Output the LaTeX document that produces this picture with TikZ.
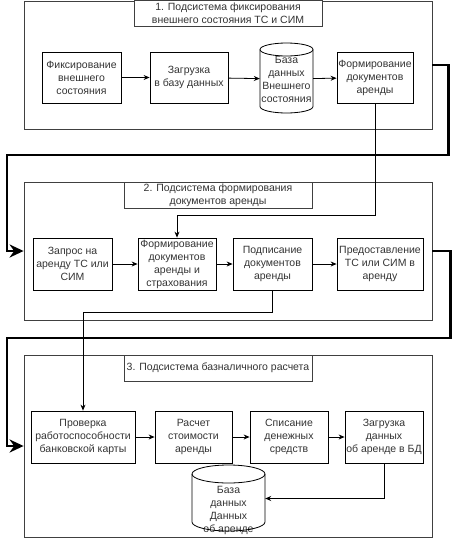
\documentclass[tikz,border=0pt]{standalone}
\usepackage{fontspec}
\setmainfont{Liberation Sans}
\usetikzlibrary{arrows.meta}
\tikzset{
  frame/.style={draw=black!75, line width=0.8pt, minimum width=408pt},
  title/.style={draw=black!75, fill=white, line width=0.8pt, minimum width=188pt,
    minimum height=26pt, inner sep=0pt, align=center},
  blk/.style={draw, line width=0.8pt, minimum height=51pt, inner sep=0pt, align=center},
  dbtext/.style={inner sep=0pt, align=center},
  link/.style={line width=2.6pt, -{Stealth[length=14pt,width=13pt]}},
}
\begin{document}
\begin{tikzpicture}[x=1pt, y=-1pt, >={Stealth[length=6pt,width=5pt]},
    font=\fontsize{10.5pt}{13pt}\selectfont, text=black!80]
  \useasboundingbox (0,0) rectangle (457,544);
  % subsystems
  \node[frame, minimum height=128pt] (frame1) at (228,65) {};
  \node[frame, minimum height=138pt] (frame2) at (228,251) {};
  \node[frame, minimum height=182pt] (frame3) at (228,446) {};
  \node[title] (title1) at (228,13.5) {1. Подсистема фиксирования\\внешнего состояния ТС и СИМ};
  \node[title] (title2) at (218,195) {2. Подсистема формирования\\документов аренды};
  \node[title] (title3) at (218,368) {3. Подсистема базналичного расчета};
  % first row
  \draw
    (81.5,77.5) node[blk, minimum width=79pt] (fix){Фиксирование\\внешнего\\состояния}
    (189,77.5) node[blk, minimum width=78pt] (load){Загрузка\\в базу данных}
    (286.5,79) node[dbtext, minimum width=53pt, minimum height=70pt] (db1){База\\данных\\Внешнего\\состояния}
    (375,77.5) node[blk, minimum width=76pt] (docs){Формирование\\документов\\аренды};
  \draw[line width=0.8pt] (260,49.5) -- (260,106.5)
    arc[start angle=180, end angle=0, x radius=26.5, y radius=6.5] -- (313,49.5);
  \draw[line width=0.8pt] (286.5,49.5) ellipse[x radius=26.5, y radius=6.5];
  % second row
  \draw
    (72.5,264) node[blk, minimum width=79pt, minimum height=52pt] (req){Запрос на\\аренду ТС или\\СИМ}
    (177,264) node[blk, minimum width=78pt, minimum height=52pt] (ins){Формирование\\документов\\аренды и\\страхования}
    (272.5,264) node[blk, minimum width=79pt, minimum height=52pt] (sign){Подписание\\документов\\аренды}
    (380,264) node[blk, minimum width=86pt, minimum height=52pt] (give){Предоставление\\ТС или СИМ в\\аренду};
  % third row
  \draw
    (83,437) node[blk, minimum width=104pt, minimum height=52pt] (card){Проверка\\работоспособности\\банковской карты}
    (193.5,437) node[blk, minimum width=77pt, minimum height=52pt] (cost){Расчет\\стоимости\\аренды}
    (289,437) node[blk, minimum width=78pt, minimum height=52pt] (pay){Списание\\денежных\\средств}
    (384,437) node[blk, minimum width=78pt, minimum height=52pt] (save){Загрузка\\данных\\об аренде в БД}
    (228.5,498.5) node[minimum width=73pt, minimum height=67pt] (db2){}
    (228.5,510) node[dbtext] (db2txt){База\\данных\\Данных\\об аренде};
  \draw[line width=0.8pt] (192,474) -- (192,522)
    arc[start angle=180, end angle=0, x radius=36.5, y radius=9] -- (265,474);
  \draw[line width=0.8pt] (228.5,474) ellipse[x radius=36.5, y radius=9];
  \begin{scope}[->, line width=0.8pt]
    \draw (fix) to (load);
    \draw (load) to (db1);
    \draw (db1) to (docs);
    \draw (req) to (ins);
    \draw (ins) to (sign);
    \draw (sign) to (give);
    \draw (card) to (cost);
    \draw (cost) to (pay);
    \draw (pay) to (save);
    \draw (docs.south) -- ++(0,112) -| (ins.north);
    \draw (sign.south) -- ++(0,22) -| (card.north);
    \draw (save.south) |- (db2.east);
  \end{scope}
  \draw[link] (frame1.east) -- ++(16,0) |- (7,155) |- (frame2.west);
  \draw[link] (frame2.east) -- ++(18,0) |- (7,338) |- (frame3.west);
\end{tikzpicture}
\end{document}
